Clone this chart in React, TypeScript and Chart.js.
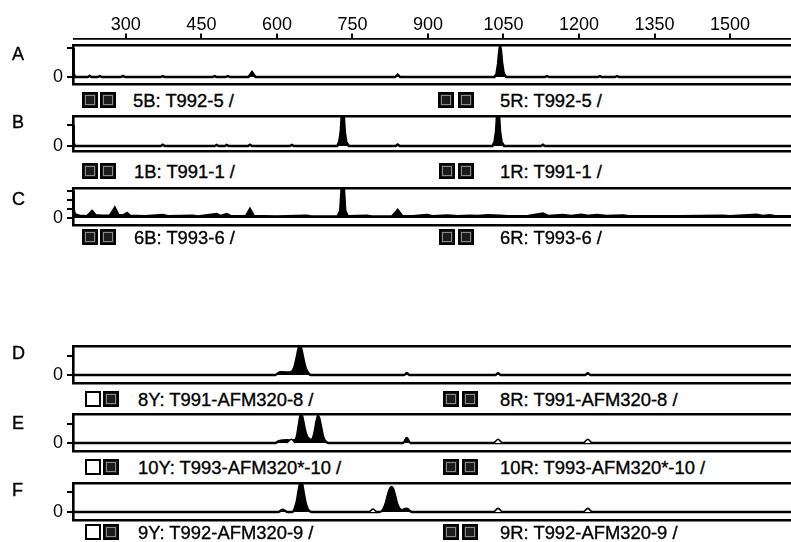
import React, { useEffect, useRef } from 'react';
import { Chart, registerables } from 'chart.js';

Chart.register(...registerables);

// ---- data ----
const X_MIN = 197;
const X_MAX = 1627;
const X_TICKS = [300, 450, 600, 750, 900, 1050, 1200, 1350, 1500];

const LETTERS = ['A', 'B', 'C', 'D', 'E', 'F'];
const LABELS_LEFT = ['5B: T992-5 /', '1B: T991-1 /', '6B: T993-6 /', '8Y: T991-AFM320-8 /', '10Y: T993-AFM320*-10 /', '9Y: T992-AFM320-9 /'];
const LABELS_RIGHT = ['5R: T992-5 /', '1R: T991-1 /', '6R: T993-6 /', '8R: T991-AFM320-8 /', '10R: T993-AFM320*-10 /', '9R: T992-AFM320-9 /'];

const Y_TICKS_A = [0, 1000];
const Y_TICKS_B = [0, 1000];
const Y_TICKS_C = [0, 1000, 2000, 3000];
const Y_TICKS_D = [0, 1000];
const Y_TICKS_E = [0, 1000];
const Y_TICKS_F = [0, 1000];

const Y_RANGE_A = [-240, 1100];
const Y_RANGE_B = [-240, 1430];
const Y_RANGE_C = [-780, 3330];
const Y_RANGE_D = [-420, 1525];
const Y_RANGE_E = [-420, 1525];
const Y_RANGE_F = [-400, 1450];

const A_TRACE: [number, number][] = [
  [197, 1000], [198.5, 120], [201, 0], [226, 0], [230, 40], [234, 0], [246, 0], [250, 35], [254, 0],
  [292, 0], [296, 40], [300, 0], [371, 0], [375, 30], [379, 0], [474, 0], [478, 30], [482, 0],
  [500, 0], [504, 35], [508, 0], [545, 0], [552, 170], [559, 0], [836, 0], [841, 80], [846, 0],
  [1033, 0], [1037, 120], [1040, 450], [1042, 850], [1044, 1080], [1046, 900], [1048, 500], [1051, 150], [1056, 0],
  [1133, 0], [1137, 35], [1141, 0], [1238, 0], [1242, 30], [1246, 0], [1272, 0], [1276, 35], [1280, 0], [1627, 0],
];

const B_TRACE: [number, number][] = [
  [197, 1000], [198.5, 150], [201, 0], [371, 0], [375, 60], [379, 0], [478, 0], [482, 50], [486, 0],
  [498, 0], [502, 50], [506, 0], [544, 0], [548, 60], [552, 0], [627, 0], [631, 50], [635, 0],
  [721, 0], [725, 200], [728, 700], [730, 1500], [734, 1500], [736, 700], [739, 200], [744, 0],
  [837, 0], [841, 70], [845, 0], [1029, 0], [1033, 200], [1036, 700], [1038, 1500], [1042, 1500], [1044, 700], [1047, 200], [1052, 0],
  [1125, 0], [1129, 60], [1133, 0], [1627, 0],
];

const C_TRACE: [number, number][] = [
  [197, 3000], [198.5, 900], [201, 400], [210, 250], [225, 200], [235, 780], [242, 300], [255, 250], [270, 250],
  [280, 1150], [287, 350], [296, 280], [304, 550], [310, 250], [340, 200], [375, 330], [385, 200], [435, 260],
  [445, 180], [482, 440], [490, 220], [502, 440], [510, 200], [540, 200], [548, 1000], [556, 220], [600, 180],
  [661, 260], [670, 180], [722, 180], [727, 800], [730, 3600], [734, 3600], [737, 800], [742, 200], [780, 260],
  [790, 180], [830, 200], [841, 890], [850, 220], [870, 200], [899, 340], [910, 200], [940, 280], [960, 200],
  [984, 260], [1000, 230], [1020, 300], [1044, 260], [1060, 200], [1100, 220], [1129, 500], [1140, 220],
  [1168, 330], [1185, 230], [1205, 350], [1220, 240], [1236, 330], [1255, 220], [1288, 280], [1300, 200],
  [1400, 200], [1486, 260], [1500, 200], [1553, 360], [1565, 220], [1579, 300], [1590, 200], [1627, 200],
];

const D_TRACE: [number, number][] = [
  [197, 0], [598, 0], [603, 80], [608, 150], [620, 140], [630, 170], [633, 250], [637, 500], [640, 850],
  [644, 1350], [647, 1550], [650, 1350], [654, 850], [657, 500], [661, 220], [665, 60], [669, 0],
  [854, 0], [859, 110], [864, 0], [1035, 0], [1040, 100], [1045, 0], [1213, 0], [1218, 100], [1223, 0], [1627, 0],
];

const E_TRACE: [number, number][] = [
  [197, 0], [598, 0], [604, 80], [612, 130], [622, 150], [630, 130], [638, 170], [641, 350], [644, 800],
  [647, 1300], [649, 1530], [651, 1450], [654, 1100], [657, 700], [661, 350], [666, 200], [671, 170],
  [674, 350], [677, 700], [680, 1150], [683, 1420], [686, 1250], [689, 850], [692, 450], [695, 200], [699, 60], [703, 0],
  [852, 0], [859, 260], [866, 0], [1627, 0],
];
const E_OUTLINE: [number, number][][] = [
  [[621, 0], [630, 200], [638, 0]],
  [[1032, 0], [1040, 200], [1048, 0]],
  [[1210, 0], [1218, 200], [1226, 0]],
];

const F_TRACE: [number, number][] = [
  [197, 0], [604, 0], [608, 50], [613, 120], [618, 50], [623, 0], [632, 0], [637, 200], [641, 550],
  [644, 1000], [647, 1400], [649, 1500], [652, 1350], [655, 900], [658, 500], [662, 180], [666, 40], [670, 0],
  [805, 0], [812, 120], [818, 500], [822, 900], [826, 1180], [829, 1250], [832, 1150], [836, 800], [840, 400],
  [845, 150], [850, 100], [855, 150], [859, 170], [864, 80], [869, 0], [1627, 0],
];
const F_OUTLINE: [number, number][][] = [
  [[785, 0], [792, 150], [799, 0]],
  [[1032, 0], [1040, 180], [1048, 0]],
  [[1210, 0], [1218, 180], [1226, 0]],
];

// ---- layout ----
const FONT = 'Arial, "Liberation Sans", Helvetica, sans-serif';
const CANVAS_W = 794;

type PanelDef = {
  top: number; bottom: number; yRange: number[]; yTicks: number[];
  trace: [number, number][]; outline: [number, number][][]; smooth: boolean;
  letterY: number; labelY: number; leftSq: number[]; leftText: number; rightSq: number[]; rightText: number; firstWhite: boolean;
};

const PANELS: PanelDef[] = [
  { top: 45, bottom: 84, yRange: Y_RANGE_A, yTicks: Y_TICKS_A, trace: A_TRACE, outline: [], smooth: false, letterY: 54, labelY: 101, leftSq: [82, 100], leftText: 133, rightSq: [438, 458], rightText: 500, firstWhite: false },
  { top: 116, bottom: 151, yRange: Y_RANGE_B, yTicks: Y_TICKS_B, trace: B_TRACE, outline: [], smooth: false, letterY: 121.5, labelY: 172, leftSq: [82, 100], leftText: 134, rightSq: [439, 458], rightText: 500, firstWhite: false },
  { top: 188, bottom: 225, yRange: Y_RANGE_C, yTicks: Y_TICKS_C, trace: C_TRACE, outline: [], smooth: false, letterY: 198.5, labelY: 238, leftSq: [82, 100], leftText: 134, rightSq: [439, 458], rightText: 500, firstWhite: false },
  { top: 346, bottom: 383, yRange: Y_RANGE_D, yTicks: Y_TICKS_D, trace: D_TRACE, outline: [], smooth: true, letterY: 353, labelY: 400, leftSq: [85, 103], leftText: 138, rightSq: [443, 462], rightText: 500, firstWhite: true },
  { top: 414, bottom: 451, yRange: Y_RANGE_E, yTicks: Y_TICKS_E, trace: E_TRACE, outline: E_OUTLINE, smooth: true, letterY: 423, labelY: 468, leftSq: [85, 103], leftText: 138, rightSq: [443, 462], rightText: 500, firstWhite: true },
  { top: 483, bottom: 520, yRange: Y_RANGE_F, yTicks: Y_TICKS_F, trace: F_TRACE, outline: F_OUTLINE, smooth: true, letterY: 490, labelY: 533, leftSq: [85, 103], leftText: 138, rightSq: [443, 462], rightText: 500, firstWhite: true },
];

const PAD = 3;

function toXY(arr: [number, number][]) {
  return arr.map(([x, y]) => ({ x, y }));
}

const zeroPad = (s: any) => {
  s.paddingTop = 0; s.paddingBottom = 0; s.paddingLeft = 0; s.paddingRight = 0;
};

function PanelChart({ p }: { p: PanelDef }) {
  const ref = useRef<HTMLCanvasElement | null>(null);
  useEffect(() => {
    if (!ref.current) return;
    const lineOpts = p.smooth ? { cubicInterpolationMode: 'monotone' as const } : { tension: 0 };
    const outlineSets = p.outline.map((bump) => ({
      data: toXY(bump),
      borderColor: '#000',
      borderWidth: 1.6,
      backgroundColor: '#fff',
      fill: 'origin',
      pointRadius: 0,
      cubicInterpolationMode: 'monotone' as const,
      xAxisID: 'x',
      yAxisID: 'y',
    }));
    const chart = new Chart(ref.current, {
      type: 'line',
      data: {
        datasets: [
          ...outlineSets,
          {
            data: toXY(p.trace),
            borderColor: '#000',
            borderWidth: 2.4,
            backgroundColor: '#000',
            fill: 'origin',
            pointRadius: 0,
            ...lineOpts,
            xAxisID: 'x',
            yAxisID: 'y',
          },
        ] as any,
      },
      options: {
        animation: false,
        responsive: true,
        maintainAspectRatio: false,
        events: [],
        layout: { padding: { top: PAD, bottom: PAD, left: 0, right: 0 } },
        plugins: { legend: { display: false }, tooltip: { enabled: false } },
        scales: {
          x: {
            type: 'linear', position: 'bottom', min: X_MIN, max: X_MAX,
            grid: { display: false }, ticks: { display: false },
            border: { display: true, color: '#000', width: 2.4 },
            afterFit: (s: any) => { s.height = 0; zeroPad(s); },
          },
          xTop: {
            type: 'linear', position: 'top', min: X_MIN, max: X_MAX,
            grid: { display: false }, ticks: { display: false },
            border: { display: true, color: '#000', width: 2.4 },
            afterFit: (s: any) => { s.height = 0; zeroPad(s); },
          },
          y: {
            type: 'linear', position: 'left', min: p.yRange[0], max: p.yRange[1],
            afterBuildTicks: (s: any) => { s.ticks = p.yTicks.map((v) => ({ value: v })); },
            ticks: {
              autoSkip: false, padding: 4, color: '#000',
              font: { size: 18, family: FONT },
              callback: (v: any) => (Number(v) === 0 ? '0' : ''),
            },
            grid: { display: true, drawOnChartArea: false, drawTicks: true, tickLength: 6, color: '#000', lineWidth: 2 },
            border: { display: true, color: '#000', width: 2.6 },
            afterFit: (s: any) => { s.width = 73; zeroPad(s); },
          },
        },
      } as any,
    });
    return () => chart.destroy();
  }, [p]);
  return (
    <div style={{ position: 'absolute', left: 0, top: p.top - PAD, width: CANVAS_W, height: p.bottom - p.top + PAD * 2 }}>
      <canvas ref={ref} />
    </div>
  );
}

function TopAxis() {
  const ref = useRef<HTMLCanvasElement | null>(null);
  useEffect(() => {
    if (!ref.current) return;
    const chart = new Chart(ref.current, {
      type: 'scatter',
      data: { datasets: [] },
      options: {
        animation: false,
        responsive: true,
        maintainAspectRatio: false,
        events: [],
        layout: { padding: { top: 0, bottom: 0, left: 74, right: 0 } },
        plugins: { legend: { display: false }, tooltip: { enabled: false } },
        scales: {
          x: {
            type: 'linear', position: 'top', min: X_MIN, max: X_MAX,
            afterBuildTicks: (s: any) => { s.ticks = X_TICKS.map((v) => ({ value: v })); },
            ticks: {
              autoSkip: false, maxRotation: 0, padding: -2, color: '#000',
              font: { size: 18, family: FONT },
              callback: (v: any) => String(v),
            },
            grid: { display: true, drawOnChartArea: false, drawTicks: true, tickLength: 5, color: '#000', lineWidth: 2 },
            border: { display: true, color: '#000', width: 1.8 },
            afterFit: (s: any) => { s.height = 38.5; zeroPad(s); },
          },
          y: { display: false, min: 0, max: 1 },
        },
      } as any,
    });
    return () => chart.destroy();
  }, []);
  return (
    <div style={{ position: 'absolute', left: 0, top: 0, width: CANVAS_W, height: 42 }}>
      <canvas ref={ref} />
    </div>
  );
}

function Square({ x, y, white }: { x: number; y: number; white: boolean }) {
  return (
    <div
      style={{
        position: 'absolute', left: x, top: y - 8, width: 16, height: 16, boxSizing: 'border-box',
        border: '2px solid #000',
        background: white ? '#fff' : '#1c1c1c',
        boxShadow: white ? 'none' : 'inset 0 0 0 1px #1c1c1c, inset 0 0 0 2px #8a8a8a',
      }}
    />
  );
}

const textStyle = (left: number, cy: number): React.CSSProperties => ({
  position: 'absolute', left, top: cy - 10.8, height: 22, lineHeight: '22px',
  fontFamily: FONT, fontSize: 18.4, color: '#000', whiteSpace: 'nowrap',
  WebkitTextStroke: '0.35px #000',
});

export default function App() {
  return (
    <div style={{ position: 'fixed', left: 0, top: 0, width: 791, height: 542, overflow: 'hidden', background: '#fff' }}>
      <TopAxis />
      {PANELS.map((p, i) => (
        <React.Fragment key={i}>
          <PanelChart p={p} />
          <div style={{ ...textStyle(12, p.letterY), fontSize: 18 }}>{LETTERS[i]}</div>
          <Square x={p.leftSq[0]} y={p.labelY - 1} white={p.firstWhite} />
          <Square x={p.leftSq[1]} y={p.labelY - 1} white={false} />
          <div style={textStyle(p.leftText, p.labelY)}>{LABELS_LEFT[i]}</div>
          <Square x={p.rightSq[0]} y={p.labelY - 1} white={false} />
          <Square x={p.rightSq[1]} y={p.labelY - 1} white={false} />
          <div style={textStyle(p.rightText, p.labelY)}>{LABELS_RIGHT[i]}</div>
        </React.Fragment>
      ))}
    </div>
  );
}
